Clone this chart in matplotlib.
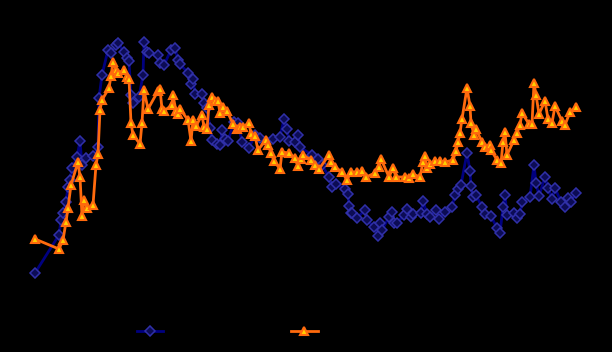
import matplotlib
matplotlib.use("Agg")
import matplotlib.pyplot as plt

# values (x = time position, y = level, arbitrary units)
blue_x = [35, 59, 61, 63, 66, 68, 70, 72, 77, 80, 82, 86, 93, 98, 99, 102, 108, 111,
          116, 118, 124, 127, 129, 131, 133, 139, 143, 144, 147, 149, 158, 160, 164,
          171, 175, 178, 180, 188, 191, 193, 195, 202, 204, 207, 210, 212, 217, 220,
          222, 225, 228, 234, 238, 242, 249, 255, 260, 273, 280, 284, 287, 289, 295,
          298, 300, 312, 318, 322, 329, 332, 336, 345, 348, 349, 351, 352, 357, 365,
          367, 374, 378, 380, 382, 389, 392, 394, 397, 404, 407, 411, 413, 421, 423,
          427, 430, 436, 439, 445, 452, 455, 458, 461, 467, 470, 471, 473, 476, 482,
          485, 491, 497, 500, 503, 505, 507, 514, 517, 520, 522, 530, 534, 536, 539,
          545, 548, 552, 555, 561, 565, 568, 571, 576]
blue_y = [273, 235, 220, 213, 202, 187, 180, 168, 157, 141, 165, 158, 156, 147, 98, 75,
          50, 53, 45, 43, 52, 58, 61, 95, 103, 97, 75, 42, 52, 53, 55, 63, 65, 50, 48,
          60, 64, 73, 84, 79, 94, 94, 103, 108, 128, 140, 144, 145, 130, 139, 141, 122,
          123, 142, 148, 135, 138, 139, 137, 119, 129, 141, 142, 135, 147, 155, 159,
          165, 177, 187, 184, 189, 194, 206, 213, 213, 218, 210, 220, 227, 236, 223,
          230, 217, 212, 223, 223, 215, 209, 217, 214, 213, 201, 214, 217, 210, 219,
          212, 207, 195, 189, 185, 153, 171, 186, 197, 195, 207, 214, 216, 228, 233,
          207, 195, 215, 213, 218, 214, 202, 197, 165, 183, 196, 177, 188, 199, 188,
          202, 207, 198, 202, 193]

orange_x = [35, 59, 63, 66, 68, 71, 78, 80, 82, 84, 87, 93, 96, 98, 100, 102, 109, 111,
            113, 116, 118, 124, 127, 129, 131, 133, 140, 142, 144, 148, 158, 160, 162,
            164, 172, 173, 176, 178, 180, 188, 191, 193, 196, 202, 204, 207, 209, 212,
            215, 218, 220, 223, 227, 233, 237, 240, 243, 249, 251, 255, 258, 266, 268,
            271, 274, 280, 282, 289, 295, 298, 301, 303, 311, 315, 319, 329, 331, 335,
            342, 347, 351, 357, 362, 366, 375, 379, 381, 389, 393, 396, 405, 409, 413,
            420, 423, 425, 427, 430, 435, 440, 445, 453, 456, 458, 460, 462, 467, 470,
            471, 474, 476, 482, 485, 490, 491, 497, 501, 503, 505, 507, 514, 517, 520,
            522, 529, 532, 534, 536, 539, 545, 548, 552, 555, 562, 565, 570, 576]
orange_y = [239, 249, 240, 222, 208, 185, 162, 177, 216, 200, 208, 205, 165, 154, 110,
            100, 88, 76, 62, 70, 73, 70, 77, 79, 123, 135, 144, 123, 90, 109, 91, 89,
            109, 111, 105, 95, 111, 114, 109, 120, 141, 120, 126, 115, 127, 129, 105,
            97, 101, 101, 113, 107, 111, 124, 129, 127, 127, 123, 134, 136, 150, 140,
            145, 153, 161, 169, 152, 153, 158, 166, 159, 155, 160, 165, 169, 155, 162,
            167, 172, 180, 172, 172, 171, 177, 173, 167, 159, 177, 168, 177, 177, 178,
            174, 177, 162, 156, 168, 164, 161, 161, 162, 160, 151, 142, 133, 119, 88,
            106, 123, 135, 129, 142, 147, 145, 150, 160, 163, 142, 132, 155, 140, 133,
            125, 113, 124, 124, 83, 95, 114, 101, 119, 123, 106, 121, 125, 112, 107]

blue_label = "Series 1"
orange_label = "Series 2"

fig = plt.figure(figsize=(6.12, 3.52), dpi=100, facecolor="black")
ax = fig.add_axes([0, 0, 1, 1], facecolor="black")

ax.plot(blue_x, blue_y, color="#000080", linewidth=2, marker="D", markersize=4.8,
        markerfacecolor="#0c0c55", markeredgecolor="#3030a8", markeredgewidth=1.1,
        label=blue_label)
ax.plot(orange_x, orange_y, color="#ff6a0d", linewidth=2, marker="^", markersize=5.5,
        markerfacecolor="#ffd000", markeredgecolor="#ff6a0d", markeredgewidth=1.5,
        label=orange_label)

ax.set_xlim(0, 612)
ax.set_ylim(352, 0)
ax.axis("off")

leg = fig.legend(loc="center", bbox_to_anchor=(0.4257, 0.057), ncol=2, frameon=False,
                 handlelength=1.9, columnspacing=4.4, labelcolor="black")

fig.savefig("out.png", dpi=100, facecolor="black")
